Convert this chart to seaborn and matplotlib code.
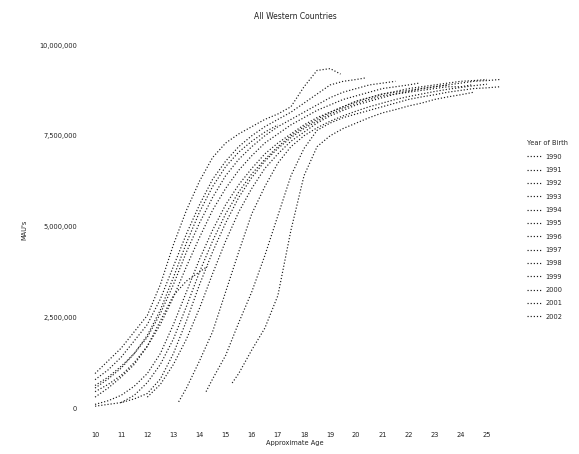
import matplotlib
matplotlib.use("Agg")
import matplotlib.pyplot as plt
import matplotlib.ticker as mticker
from matplotlib.lines import Line2D
import seaborn as sns
import pandas as pd

# ---- data (values in millions) ----
birth_years = ["1990", "1991", "1992", "1993", "1994", "1995", "1996",
               "1997", "1998", "1999", "2000", "2001", "2002"]

age_1990 = [15.25, 15.5, 16, 16.5, 17, 17.5, 18, 18.5, 19, 19.5, 20, 20.5, 21, 21.5, 22, 22.5, 23, 23.5, 24, 24.5]
mau_1990 = [0.69, 0.95, 1.6, 2.2, 3.1, 4.9, 6.4, 7.2, 7.5, 7.7, 7.85, 8.0, 8.13, 8.22, 8.32, 8.4, 8.5, 8.57, 8.63, 8.7]

age_1991 = [14.25, 14.5, 15, 15.5, 16, 16.5, 17, 17.5, 18, 18.5, 19, 19.5, 20, 20.5, 21, 21.5, 22, 22.5, 23, 23.5, 24, 24.5, 25, 25.5]
mau_1991 = [0.45, 0.8, 1.45, 2.35, 3.2, 4.2, 5.3, 6.4, 7.15, 7.65, 7.85, 8.0, 8.1, 8.2, 8.3, 8.4, 8.5, 8.57, 8.63, 8.7, 8.75, 8.8, 8.82, 8.85]

age_1992 = [13.2, 13.5, 14, 14.5, 15, 15.5, 16, 16.5, 17, 17.5, 18, 18.5, 19, 19.5, 20, 20.5, 21, 21.5, 22, 22.5, 23, 23.5, 24, 24.5, 25]
mau_1992 = [0.17, 0.55, 1.3, 2.1, 3.2, 4.3, 5.35, 6.1, 6.75, 7.2, 7.5, 7.72, 7.9, 8.05, 8.18, 8.3, 8.4, 8.5, 8.58, 8.65, 8.72, 8.78, 8.83, 8.88, 8.92]

age_1993 = [12, 12.5, 13, 13.5, 14, 14.5, 15, 15.5, 16, 16.5, 17, 17.5, 18, 18.5, 19, 19.5, 20, 20.5, 21, 21.5, 22, 22.5, 23, 23.5, 24, 24.5, 25, 25.5]
mau_1993 = [0.3, 0.65, 1.2, 1.9, 2.75, 3.7, 4.6, 5.4, 6.05, 6.6, 7.0, 7.35, 7.6, 7.85, 8.05, 8.2, 8.35, 8.45, 8.55, 8.65, 8.72, 8.8, 8.85, 8.9, 8.95, 9.0, 9.02, 9.05]

age_1994 = [11, 11.5, 12, 12.5, 13, 13.5, 14, 14.5, 15, 15.5, 16, 16.5, 17, 17.5, 18, 18.5, 19, 19.5, 20, 20.5, 21, 21.5, 22, 22.5, 23, 23.5, 24, 24.5, 25]
mau_1994 = [0.15, 0.35, 0.7, 1.2, 1.9, 2.8, 3.75, 4.6, 5.35, 5.95, 6.45, 6.85, 7.2, 7.5, 7.75, 7.95, 8.15, 8.3, 8.45, 8.55, 8.65, 8.72, 8.8, 8.85, 8.9, 8.95, 9.0, 9.02, 9.05]

age_1995 = [10, 10.5, 11, 11.5, 12, 12.5, 13, 13.5, 14, 14.5, 15, 15.5, 16, 16.5, 17, 17.5, 18, 18.5, 19, 19.5, 20, 20.5, 21, 21.5, 22, 22.5, 23, 23.5, 24, 24.4]
mau_1995 = [0.05, 0.1, 0.15, 0.25, 0.4, 0.8, 1.5, 2.4, 3.4, 4.3, 5.1, 5.8, 6.35, 6.8, 7.15, 7.45, 7.7, 7.9, 8.1, 8.25, 8.4, 8.5, 8.6, 8.65, 8.7, 8.75, 8.8, 8.85, 8.85, 8.9]

age_1996 = [10, 10.5, 11, 11.5, 12, 12.5, 13, 13.5, 14, 14.5, 15, 15.5, 16, 16.5, 17, 17.5, 18, 18.5, 19, 19.5, 20, 20.5, 21, 21.5, 22, 22.5, 23, 23.5]
mau_1996 = [0.1, 0.2, 0.35, 0.6, 0.95, 1.5, 2.3, 3.2, 4.1, 4.9, 5.6, 6.15, 6.6, 7.0, 7.3, 7.55, 7.8, 8.0, 8.15, 8.3, 8.45, 8.55, 8.65, 8.7, 8.75, 8.8, 8.85, 8.9]

age_1997 = [10, 10.5, 11, 11.5, 12, 12.5, 13, 13.5, 14, 14.5, 15, 15.5, 16, 16.5, 17, 17.5, 18, 18.5, 19, 19.5, 20, 20.5, 21, 21.5, 22, 22.4]
mau_1997 = [0.45, 0.65, 0.9, 1.25, 1.7, 2.3, 3.05, 3.9, 4.7, 5.45, 6.05, 6.55, 6.95, 7.3, 7.55, 7.8, 8.0, 8.2, 8.35, 8.5, 8.6, 8.7, 8.8, 8.85, 8.9, 8.95]

age_1998 = [10, 10.5, 11, 11.5, 12, 12.5, 13, 13.5, 14, 14.5, 15, 15.5, 16, 16.5, 17, 17.5, 18, 18.5, 19, 19.5, 20, 20.5, 21, 21.5]
mau_1998 = [0.62, 0.85, 1.15, 1.5, 1.95, 2.6, 3.4, 4.3, 5.1, 5.8, 6.4, 6.85, 7.2, 7.5, 7.75, 7.95, 8.15, 8.35, 8.55, 8.7, 8.8, 8.9, 8.95, 9.0]

age_1999 = [10, 10.5, 11, 11.5, 12, 12.5, 13, 13.5, 14, 14.5, 15, 15.5, 16, 16.5, 17, 17.5, 18, 18.5, 19, 19.5, 20, 20.4]
mau_1999 = [0.78, 1.05, 1.4, 1.85, 2.3, 3.0, 3.9, 4.8, 5.6, 6.3, 6.8, 7.2, 7.5, 7.75, 7.95, 8.15, 8.4, 8.65, 8.9, 9.0, 9.05, 9.1]

age_2000 = [10, 10.5, 11, 11.5, 12, 12.5, 13, 13.5, 14, 14.5, 15, 15.5, 16, 16.5, 17, 17.5, 18, 18.5, 19, 19.4]
mau_2000 = [0.95, 1.3, 1.65, 2.1, 2.55, 3.4, 4.5, 5.45, 6.25, 6.9, 7.3, 7.55, 7.75, 7.95, 8.1, 8.3, 8.85, 9.3, 9.35, 9.2]

age_2001 = [10, 10.5, 11, 11.5, 12, 12.5, 13, 13.5, 14, 14.5, 15, 15.5, 16, 16.5, 17]
mau_2001 = [0.55, 0.8, 1.1, 1.5, 2.0, 2.7, 3.6, 4.55, 5.4, 6.1, 6.65, 7.05, 7.35, 7.6, 7.8]

age_2002 = [10, 10.5, 11, 11.5, 12, 12.5, 13, 13.5, 14, 14.3]
mau_2002 = [0.3, 0.55, 0.85, 1.2, 1.7, 2.4, 3.1, 3.5, 3.75, 3.9]

x_ticks = list(range(10, 26))
y_ticks = [0, 2500000, 5000000, 7500000, 10000000]

ages = [age_1990, age_1991, age_1992, age_1993, age_1994, age_1995, age_1996,
        age_1997, age_1998, age_1999, age_2000, age_2001, age_2002]
maus = [mau_1990, mau_1991, mau_1992, mau_1993, mau_1994, mau_1995, mau_1996,
        mau_1997, mau_1998, mau_1999, mau_2000, mau_2001, mau_2002]

rows = []
for yr, a, m in zip(birth_years, ages, maus):
    for ai, mi in zip(a, m):
        rows.append({"Year of Birth": yr, "Approximate Age": ai, "MAU": mi * 1e6})
df = pd.DataFrame(rows)

# ---- plot ----
sns.set_theme(style="white")
plt.rcParams["font.family"] = ["DejaVu Sans"]
fs = 4.8
txt_color = "#222222"

fig = plt.figure(figsize=(5.79, 4.54), dpi=100)
ax = fig.add_axes([0.147, 0.0749, 0.725, 0.837])

line_color = "#1a1a1a"
palette = {yr: line_color for yr in birth_years}
sns.lineplot(data=df, x="Approximate Age", y="MAU", hue="Year of Birth",
             palette=palette, hue_order=birth_years, linestyle=":",
             linewidth=0.85, ax=ax, legend=False, estimator=None, sort=False)

ax.set_xlim(9.62, 25.69)
ax.set_ylim(-330000, 10138000)
ax.set_xticks(x_ticks)
ax.set_yticks(y_ticks)
ax.yaxis.set_major_formatter(mticker.FuncFormatter(lambda v, p: f"{int(v):,}"))
ax.tick_params(axis="both", labelsize=fs, length=0, colors=txt_color)
ax.tick_params(axis="x", pad=9)
ax.tick_params(axis="y", pad=6)
for s in ax.spines.values():
    s.set_visible(False)
ax.grid(False)

ax.set_xlabel("Approximate Age", fontsize=fs, labelpad=1, color=txt_color)
ax.set_ylabel("MAU's", fontsize=fs, labelpad=8, color=txt_color)
ax.set_title("All Western Countries", fontsize=5.5, pad=15, color=txt_color)

handles = [Line2D([0], [0], color=line_color, linestyle=":", linewidth=0.85)
           for _ in birth_years]
leg = fig.legend(handles, birth_years, title="Year of Birth",
                 loc="upper left", bbox_to_anchor=(0.906, 0.697),
                 frameon=False, fontsize=fs, title_fontsize=fs,
                 handlelength=2.0, handletextpad=0.7, labelspacing=1.1,
                 borderaxespad=0)
leg._legend_box.align = "left"

fig.savefig("out.png", dpi=100)
